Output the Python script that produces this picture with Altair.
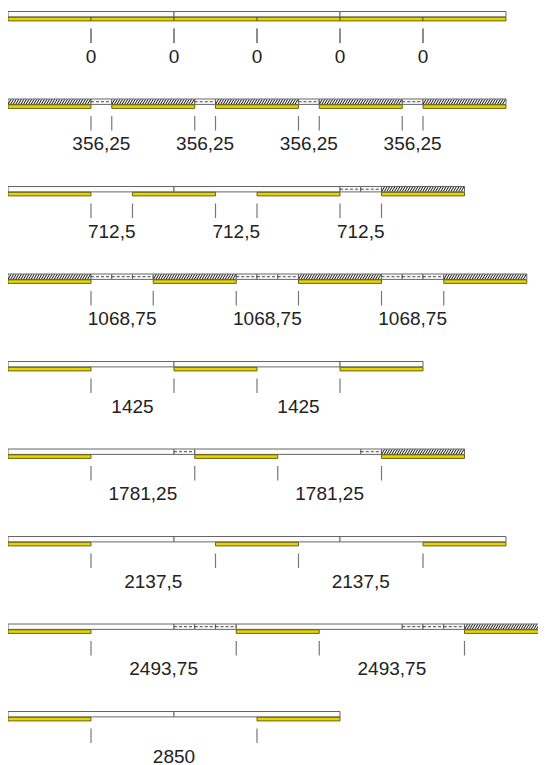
import altair as alt
import pandas as pd

# ---- data ----
UNIT = 1425  # length of one yellow piece
values = [0, 356.25, 712.5, 1068.75, 1425, 1781.25, 2137.5, 2493.75, 2850]
labels = ["0", "356,25", "712,5", "1068,75", "1425", "1781,25", "2137,5", "2493,75", "2850"]
counts = [6, 5, 4, 4, 3, 3, 3, 3, 2]
# top strip pieces per row: W = white 2850, w = white 1425, D = dashed 356.25, H = hatched 1425
seg_len = {"W": 2850, "w": 1425, "D": 356.25, "H": 1425}
top_rows = [
    "WWW",
    "HDHDHDHDH",
    "WWDDH",
    "HDDDHDDDHDDDH",
    "WWw",
    "WDWDH",
    "WWW",
    "WDDDWDDDH",
    "WW",
]

# ---- build tables ----
top, yel, ticks, labs, hatch, dash = [], [], [], [], [], []
HATCH_STEP = 44.0   # spacing of hatch lines (units)
HATCH_RUN = 48.0    # horizontal run of one hatch line (units)

for r, (g, n, lab, pat) in enumerate(zip(values, counts, labels, top_rows)):
    pos = 0.0
    for c in pat:
        ln = seg_len[c]
        top.append({"row": r, "x": pos, "x2": pos + ln, "kind": c})
        if c == "H":
            k = pos + 4
            while k + HATCH_RUN <= pos + ln - 2:
                hatch.append({"row": r, "x": k, "x2": k + HATCH_RUN})
                k += HATCH_STEP
        if c == "D":
            dash.append({"row": r, "x": pos, "x2": pos + ln})
        pos += ln
    for i in range(n):
        s = i * (UNIT + g)
        yel.append({"row": r, "x": s, "x2": s + UNIT})
        if i < n - 1:
            e = s + UNIT
            ticks.append({"row": r, "x": e})
            ticks.append({"row": r, "x": e + g})
            labs.append({"row": r, "x": e + g / 2, "text": lab})

W_PX, H_PX = 530, 757
xs = alt.Scale(domain=[0, W_PX * UNIT / 83], range=[0, W_PX])
ys = alt.Scale(domain=[0, 8], range=[3.5, 703.5])

X = alt.X("x:Q", scale=xs, axis=None)
X2 = alt.X2("x2:Q")
Y = alt.Y("row:Q", scale=ys, axis=None)
Y2 = alt.Y2("row:Q")

top_layer = alt.Chart(pd.DataFrame(top)).mark_rect(
    yOffset=0, y2Offset=5.4, fill="#fbfbfb", stroke="#666666", strokeWidth=1, clip=True
).encode(x=X, x2=X2, y=Y, y2=Y2)

yel_layer = alt.Chart(pd.DataFrame(yel)).mark_rect(
    yOffset=5.8, y2Offset=9.4, fill="#e6d500", stroke="#5a5510", strokeWidth=0.9, clip=True
).encode(x=X, x2=X2, y=Y, y2=Y2)

hatch_layer = alt.Chart(pd.DataFrame(hatch)).mark_rule(
    yOffset=5.0, y2Offset=0.4, color="#111111", strokeWidth=1.0, clip=True
).encode(x=X, x2=X2, y=Y, y2=Y2)

dash_layer = alt.Chart(pd.DataFrame(dash)).mark_rule(
    yOffset=2.7, y2Offset=2.7, color="#333333", strokeWidth=0.9, strokeDash=[3, 2], clip=True
).encode(x=X, x2=X2, y=Y, y2=Y2)

tick_layer = alt.Chart(pd.DataFrame(ticks)).mark_rule(
    yOffset=17, y2Offset=31.5, color="#777777", strokeWidth=1.2
).encode(x=X, y=Y, y2=Y2)

label_layer = alt.Chart(pd.DataFrame(labs)).mark_text(
    yOffset=51, align="center", baseline="alphabetic",
    font="Liberation Sans", fontSize=19, color="#222222"
).encode(x=X, y=Y, text="text:N")

chart = alt.layer(
    top_layer, hatch_layer, dash_layer, yel_layer, tick_layer, label_layer
).properties(
    width=W_PX, height=H_PX, padding=0,
    autosize=alt.AutoSizeParams(type="none", contains="padding"),
).configure_view(stroke=None)

chart.save("out.html", embed_options={"renderer": "svg", "actions": False})
